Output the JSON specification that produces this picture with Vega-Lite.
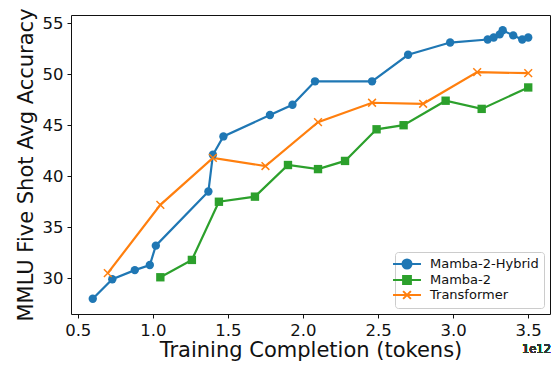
{
  "$schema": "https://vega.github.io/schema/vega-lite/v6.json",
  "autosize": {"type": "none"},
  "width": 479,
  "height": 299,
  "padding": {"left": 71, "top": 15, "right": 2, "bottom": 51},
  "config": {
    "font": "DejaVu Sans",
    "view": {"stroke": "#111", "strokeWidth": 1},
    "axis": {
      "grid": false,
      "domain": false,
      "tickColor": "#111",
      "tickSize": 4,
      "labelColor": "#111",
      "titleColor": "#111",
      "labelFontSize": 16.5,
      "titleFontSize": 21,
      "titleFontWeight": "normal"
    }
  },
  "data": {
    "values": [
      {"model": "Mamba-2-Hybrid", "tokens": 0.6, "acc": 28.0},
      {"model": "Mamba-2-Hybrid", "tokens": 0.73, "acc": 29.9},
      {"model": "Mamba-2-Hybrid", "tokens": 0.88, "acc": 30.8},
      {"model": "Mamba-2-Hybrid", "tokens": 0.98, "acc": 31.3},
      {"model": "Mamba-2-Hybrid", "tokens": 1.02, "acc": 33.2},
      {"model": "Mamba-2-Hybrid", "tokens": 1.37, "acc": 38.5},
      {"model": "Mamba-2-Hybrid", "tokens": 1.4, "acc": 42.1},
      {"model": "Mamba-2-Hybrid", "tokens": 1.47, "acc": 43.9},
      {"model": "Mamba-2-Hybrid", "tokens": 1.78, "acc": 46.0},
      {"model": "Mamba-2-Hybrid", "tokens": 1.93, "acc": 47.0},
      {"model": "Mamba-2-Hybrid", "tokens": 2.08, "acc": 49.3},
      {"model": "Mamba-2-Hybrid", "tokens": 2.46, "acc": 49.3},
      {"model": "Mamba-2-Hybrid", "tokens": 2.7, "acc": 51.9},
      {"model": "Mamba-2-Hybrid", "tokens": 2.98, "acc": 53.1},
      {"model": "Mamba-2-Hybrid", "tokens": 3.23, "acc": 53.4},
      {"model": "Mamba-2-Hybrid", "tokens": 3.27, "acc": 53.6},
      {"model": "Mamba-2-Hybrid", "tokens": 3.31, "acc": 53.9},
      {"model": "Mamba-2-Hybrid", "tokens": 3.33, "acc": 54.3},
      {"model": "Mamba-2-Hybrid", "tokens": 3.4, "acc": 53.8},
      {"model": "Mamba-2-Hybrid", "tokens": 3.46, "acc": 53.4},
      {"model": "Mamba-2-Hybrid", "tokens": 3.5, "acc": 53.6},
      {"model": "Mamba-2", "tokens": 1.05, "acc": 30.1},
      {"model": "Mamba-2", "tokens": 1.26, "acc": 31.8},
      {"model": "Mamba-2", "tokens": 1.44, "acc": 37.5},
      {"model": "Mamba-2", "tokens": 1.68, "acc": 38.0},
      {"model": "Mamba-2", "tokens": 1.9, "acc": 41.1},
      {"model": "Mamba-2", "tokens": 2.1, "acc": 40.7},
      {"model": "Mamba-2", "tokens": 2.28, "acc": 41.5},
      {"model": "Mamba-2", "tokens": 2.49, "acc": 44.6},
      {"model": "Mamba-2", "tokens": 2.67, "acc": 45.0},
      {"model": "Mamba-2", "tokens": 2.95, "acc": 47.4},
      {"model": "Mamba-2", "tokens": 3.19, "acc": 46.6},
      {"model": "Mamba-2", "tokens": 3.5, "acc": 48.7},
      {"model": "Transformer", "tokens": 0.7, "acc": 30.5},
      {"model": "Transformer", "tokens": 1.05, "acc": 37.2},
      {"model": "Transformer", "tokens": 1.4, "acc": 41.8},
      {"model": "Transformer", "tokens": 1.75, "acc": 41.0},
      {"model": "Transformer", "tokens": 2.1, "acc": 45.3},
      {"model": "Transformer", "tokens": 2.46, "acc": 47.2},
      {"model": "Transformer", "tokens": 2.8, "acc": 47.1},
      {"model": "Transformer", "tokens": 3.16, "acc": 50.2},
      {"model": "Transformer", "tokens": 3.5, "acc": 50.1}
    ]
  },
  "encoding": {
    "x": {
      "field": "tokens",
      "type": "quantitative",
      "title": "Training Completion (tokens)",
      "scale": {"domain": [0.455, 3.645], "nice": false, "zero": false},
      "axis": {"values": [0.5, 1.0, 1.5, 2.0, 2.5, 3.0, 3.5], "format": ".1f", "labelPadding": 4, "titlePadding": 1}
    },
    "y": {
      "field": "acc",
      "type": "quantitative",
      "title": "MMLU Five Shot Avg Accuracy",
      "scale": {"domain": [26.5, 55.8], "nice": false, "zero": false},
      "axis": {"values": [30, 35, 40, 45, 50, 55], "format": "d", "labelPadding": 4, "titlePadding": 6}
    },
    "color": {
      "field": "model",
      "type": "nominal",
      "scale": {
        "domain": ["Mamba-2-Hybrid", "Mamba-2", "Transformer"],
        "range": ["#1f77b4", "#2ca02c", "#ff7f0e"]
      },
      "legend": {
        "title": null,
        "orient": "bottom-right",
        "offset": 6,
        "padding": 5,
        "strokeColor": "#cccccc",
        "fillColor": "white",
        "cornerRadius": 3,
        "labelFontSize": 13,
        "labelColor": "#111",
        "labelOffset": 16,
        "rowPadding": -1.5,
        "symbolSize": 144,
        "symbolStrokeWidth": 2,
        "encode": {
          "symbols": {
            "update": {
              "shape": {"signal": "datum.value === 'Mamba-2-Hybrid' ? 'M-2.33,0L2.33,0M0.75,0A0.75,0.75 0 1,1 -0.75,0A0.75,0.75 0 1,1 0.75,0Z' : datum.value === 'Mamba-2' ? 'M-2.33,0L2.33,0M-0.65,-0.65L0.65,-0.65L0.65,0.65L-0.65,0.65Z' : 'M-2.33,0L2.33,0M-0.65,-0.65L0.65,0.65M-0.65,0.65L0.65,-0.65'"},
              "fill": {"signal": "datum.value === 'Transformer' ? 'transparent' : scale('color', datum.value)"},
              "stroke": {"signal": "scale('color', datum.value)"},
              "strokeWidth": {"value": 2},
              "opacity": {"value": 1}
            }
          }
        }
      }
    }
  },
  "layer": [
    {
      "mark": {"type": "line", "strokeWidth": 2.2}
    },
    {
      "transform": [{"filter": "datum.model !== 'Transformer'"}],
      "mark": {"type": "point", "filled": true, "opacity": 1, "size": 70},
      "encoding": {
        "shape": {
          "field": "model",
          "type": "nominal",
          "scale": {"domain": ["Mamba-2-Hybrid", "Mamba-2"], "range": ["circle", "square"]},
          "legend": null
        }
      }
    },
    {
      "transform": [{"filter": "datum.model === 'Transformer'"}],
      "mark": {"type": "point", "filled": false, "opacity": 1, "size": 60, "strokeWidth": 1.5, "shape": "M-1,-1L1,1M-1,1L1,-1"}
    },
    {
      "mark": {"type": "text", "align": "right", "baseline": "top", "dy": 30, "dx": 1, "fontSize": 11.5, "color": "#333"},
      "encoding": {
        "x": {"datum": 3.645},
        "y": {"datum": 26.5},
        "text": {"value": "1e12"},
        "color": {"value": "#333"}
      }
    }
  ]
}
